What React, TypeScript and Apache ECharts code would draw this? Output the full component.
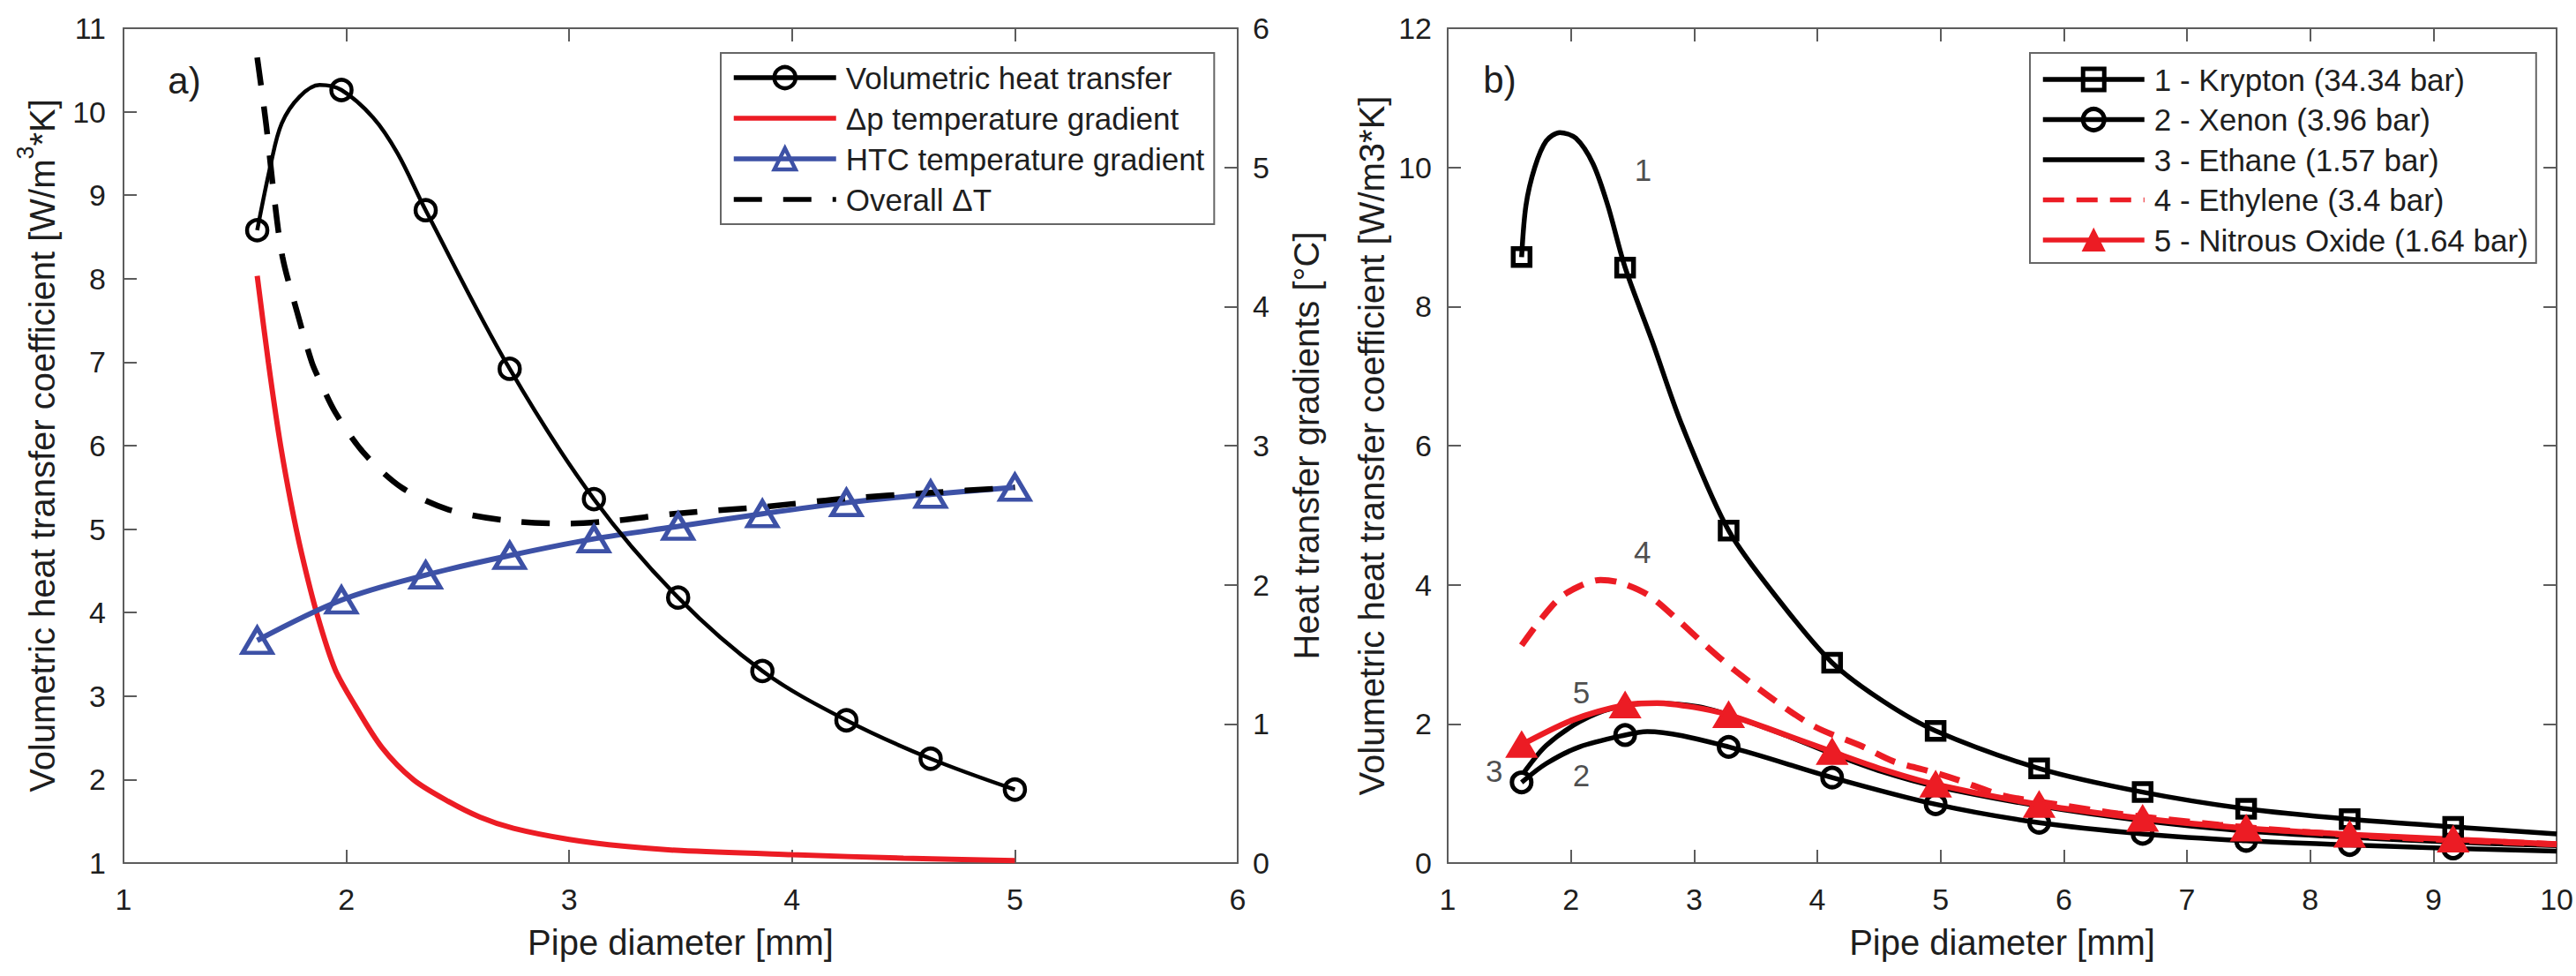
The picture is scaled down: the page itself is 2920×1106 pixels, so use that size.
import React, { useEffect, useRef } from 'react';
import * as echarts from 'echarts';

const FONT = "'Liberation Sans', Arial, Helvetica, sans-serif";

// ---------- Panel a) ----------
const aTicksX = [1, 6];
const aMarkX = [1.6, 1.978, 2.356, 2.733, 3.111, 3.489, 3.867, 4.244, 4.622, 5.0];
// Volumetric heat transfer (left axis)
const volMarkY = [8.58, 10.26, 8.82, 6.92, 5.36, 4.18, 3.3, 2.71, 2.25, 1.88];
const volCurveX = [1.66, 1.71, 1.79, 1.88, 2.12, 2.23];
const volCurveY = [9.36, 9.86, 10.18, 10.32, 9.93, 9.5];
// Δp temperature gradient (right axis)
const dpX = [1.6, 1.65, 1.7, 1.75, 1.8, 1.87, 1.95, 2.04, 2.16, 2.3, 2.45, 2.6, 2.75, 3.0, 3.25, 3.5, 4.0, 4.5, 5.0];
const dpY = [4.22, 3.6, 3.05, 2.6, 2.22, 1.78, 1.39, 1.13, 0.83, 0.6, 0.45, 0.33, 0.25, 0.17, 0.12, 0.09, 0.06, 0.035, 0.018];
// HTC temperature gradient (right axis)
const htcMarkY = [1.6, 1.89, 2.07, 2.21, 2.33, 2.42, 2.51, 2.59, 2.65, 2.7];
// Overall ΔT (right axis)
const dtX = [1.6, 1.64, 1.673, 1.713, 1.779, 1.845, 1.88, 1.95, 2.077, 2.247, 2.459, 2.727, 2.995, 3.2, 3.47, 3.87, 4.24, 4.61, 5.0];
const dtY = [5.79, 5.31, 4.83, 4.36, 3.96, 3.6, 3.47, 3.24, 2.95, 2.7, 2.54, 2.46, 2.44, 2.46, 2.51, 2.56, 2.62, 2.66, 2.7];

// ---------- Panel b) ----------
const bMarkX = [1.6, 2.44, 3.28, 4.12, 4.96, 5.8, 6.64, 7.48, 8.32, 9.16];
// 1 - Krypton
const krMarkY = [8.71, 8.56, 4.78, 2.88, 1.9, 1.36, 1.02, 0.78, 0.63, 0.52];
const krCurveX = [1.635, 1.707, 1.8, 1.91, 2.04, 2.18, 2.3, 2.66, 2.9, 3.71, 4.53, 10];
const krCurveY = [9.45, 10.0, 10.38, 10.5, 10.42, 10.05, 9.45, 7.5, 6.3, 3.73, 2.33, 0.42];
// 2 - Xenon
const xeMarkY = [1.16, 1.84, 1.67, 1.23, 0.845, 0.58, 0.42, 0.32, 0.26, 0.21];
const xeCurveX = [1.8, 2.07, 2.62, 10];
const xeCurveY = [1.43, 1.67, 1.89, 0.17];
// 3 - Ethane
const etX = [1.61, 1.8, 2.07, 2.35, 2.67, 3.03, 3.28, 3.71, 4.12, 4.53, 4.94, 5.8, 6.64, 7.48, 8.32, 9.16, 10];
const etY = [1.28, 1.69, 2.03, 2.23, 2.3, 2.25, 2.13, 1.86, 1.57, 1.31, 1.11, 0.82, 0.61, 0.46, 0.37, 0.3, 0.25];
// 4 - Ethylene
const eyX = [1.6, 1.75, 1.91, 2.07, 2.24, 2.4, 2.62, 2.84, 3.08, 3.33, 3.66, 3.98, 4.36, 4.62, 4.91, 5.13, 5.51, 5.96, 6.44, 7.26, 8.0, 8.76, 10];
const eyY = [3.13, 3.49, 3.81, 3.98, 4.07, 4.03, 3.86, 3.54, 3.15, 2.77, 2.33, 1.96, 1.68, 1.46, 1.32, 1.2, 0.97, 0.84, 0.71, 0.55, 0.44, 0.36, 0.27];
// 5 - Nitrous Oxide
const noMarkY = [1.7, 2.27, 2.13, 1.6, 1.13, 0.84, 0.64, 0.5, 0.41, 0.34];
const noCurveX = [2.02, 2.7, 3.0, 3.7, 4.54, 10];
const noCurveY = [2.06, 2.3, 2.24, 1.87, 1.34, 0.27];
// curve number labels
const numLabels = ['1', '4', '5', '3', '2'];
const numX = [2.585, 2.58, 2.085, 1.377, 2.085];
const numY = [9.96, 4.47, 2.45, 1.33, 1.26];

const legendA = ['Volumetric heat transfer', 'Δp temperature gradient', 'HTC temperature gradient', 'Overall ΔT'];
const legendB = ['1 - Krypton (34.34 bar)', '2 - Xenon (3.96 bar)', '3 - Ethane (1.57 bar)', '4 - Ethylene (3.4 bar)', '5 - Nitrous Oxide (1.64 bar)'];

const RED = '#ec1c24';
const BLUE = '#3d51a6';
const BLACK = '#000000';
const AXIS = '#5c5c5c';
const TXT = '#1e1e1e';

function build(mx: number[], my: number[], cx: number[] = [], cy: number[] = []) {
  const pts: any[] = [
    ...mx.map((x, i) => ({ value: [x, my[i]] })),
    ...cx.map((x, i) => ({ value: [x, cy[i]], symbol: 'none' })),
  ];
  pts.sort((a, b) => a.value[0] - b.value[0]);
  return pts;
}
function pairs(x: number[], y: number[]) {
  return x.map((v, i) => [v, y[i]]);
}

const axisLine = { show: true, onZero: false, lineStyle: { color: AXIS, width: 2 } };
const axisTick = { show: true, inside: true, length: 15, lineStyle: { color: AXIS, width: 2 } };
const tickLabel = { fontFamily: FONT, fontSize: 34, color: TXT };
const nameStyle = { fontFamily: FONT, fontSize: 40, color: TXT };

function makeOption(): any {
  const xAxis = [
    {
      gridIndex: 0, type: 'value', min: aTicksX[0], max: aTicksX[1], interval: 1, position: 'bottom',
      axisLine, axisTick, axisLabel: { ...tickLabel, margin: 24 }, splitLine: { show: false },
      name: 'Pipe diameter [mm]', nameLocation: 'middle', nameGap: 70, nameTextStyle: nameStyle,
    },
    {
      gridIndex: 0, type: 'value', min: aTicksX[0], max: aTicksX[1], interval: 1, position: 'top',
      axisLine, axisTick, axisLabel: { show: false }, splitLine: { show: false },
    },
    {
      gridIndex: 1, type: 'value', min: 1, max: 10, interval: 1, position: 'bottom',
      axisLine, axisTick, axisLabel: { ...tickLabel, margin: 24 }, splitLine: { show: false },
      name: 'Pipe diameter [mm]', nameLocation: 'middle', nameGap: 70, nameTextStyle: nameStyle,
    },
    {
      gridIndex: 1, type: 'value', min: 1, max: 10, interval: 1, position: 'top',
      axisLine, axisTick, axisLabel: { show: false }, splitLine: { show: false },
    },
  ];
  const yAxis = [
    {
      gridIndex: 0, type: 'value', min: 1, max: 11, interval: 1, position: 'left',
      axisLine, axisTick, axisLabel: { ...tickLabel, margin: 20 }, splitLine: { show: false },
      name: '{a|Volumetric heat transfer coefficient [W/m}{s|3}{a|*K]}', nameLocation: 'middle', nameGap: 72,
      nameTextStyle: {
        ...nameStyle,
        rich: {
          a: { fontFamily: FONT, fontSize: 40, color: TXT, lineHeight: 44, verticalAlign: 'bottom' },
          s: { fontFamily: FONT, fontSize: 27, color: TXT, lineHeight: 30, verticalAlign: 'bottom', padding: [0, 0, 26, 0] },
        },
      },
    },
    {
      gridIndex: 0, type: 'value', min: 0, max: 6, interval: 1, position: 'right',
      axisLine, axisTick, axisLabel: { ...tickLabel, margin: 17 }, splitLine: { show: false },
      name: 'Heat transfer gradients [°C]', nameLocation: 'middle', nameGap: 58, nameTextStyle: nameStyle,
    },
    {
      gridIndex: 1, type: 'value', min: 0, max: 12, interval: 2, position: 'left',
      axisLine, axisTick, axisLabel: { ...tickLabel, margin: 18 }, splitLine: { show: false },
      name: 'Volumetric heat transfer coefficient [W/m3*K]', nameLocation: 'middle', nameGap: 66, nameTextStyle: nameStyle,
    },
    {
      gridIndex: 1, type: 'value', min: 0, max: 12, interval: 2, position: 'right',
      axisLine, axisTick, axisLabel: { show: false }, splitLine: { show: false },
    },
  ];

  const hollow = (c: string, w: number) => ({ color: 'rgba(0,0,0,0)', borderColor: c, borderWidth: w });
  const noSymbol = { color: 'rgba(0,0,0,0)', borderColor: 'rgba(0,0,0,0)', borderWidth: 0, opacity: 0 };

  const series: any[] = [
    {
      name: legendA[1], type: 'line', xAxisIndex: 0, yAxisIndex: 1, data: pairs(dpX, dpY),
      symbol: 'none', smooth: 0.3, lineStyle: { color: RED, width: 6 }, itemStyle: { color: RED },
    },
    {
      name: legendA[2], type: 'line', xAxisIndex: 0, yAxisIndex: 1, data: build(aMarkX, htcMarkY),
      symbol: 'triangle', symbolSize: [33, 28], showAllSymbol: true, smooth: 0.35,
      lineStyle: { color: BLUE, width: 6 }, itemStyle: hollow(BLUE, 5),
    },
    {
      name: legendA[3], type: 'line', xAxisIndex: 0, yAxisIndex: 1, data: pairs(dtX, dtY),
      symbol: 'none', smooth: 0.3, lineStyle: { color: BLACK, width: 6.5, type: [32, 24] }, itemStyle: { color: BLACK },
    },
    {
      name: legendA[0], type: 'line', xAxisIndex: 0, yAxisIndex: 0, data: build(aMarkX, volMarkY, volCurveX, volCurveY),
      symbol: 'circle', symbolSize: 23, showAllSymbol: true, smooth: 0.35,
      lineStyle: { color: BLACK, width: 4.5 }, itemStyle: hollow(BLACK, 4.5),
    },
    // panel b
    {
      name: legendB[0], type: 'line', xAxisIndex: 2, yAxisIndex: 2, data: build(bMarkX, krMarkY, krCurveX, krCurveY),
      symbol: 'rect', symbolSize: 19, showAllSymbol: true, smooth: 0.3,
      lineStyle: { color: BLACK, width: 5.5 }, itemStyle: hollow(BLACK, 5.5),
    },
    {
      name: legendB[1], type: 'line', xAxisIndex: 2, yAxisIndex: 2, data: build(bMarkX, xeMarkY, xeCurveX, xeCurveY),
      symbol: 'circle', symbolSize: 22, showAllSymbol: true, smooth: 0.3,
      lineStyle: { color: BLACK, width: 5.5 }, itemStyle: hollow(BLACK, 5),
    },
    {
      name: legendB[2], type: 'line', xAxisIndex: 2, yAxisIndex: 2, data: pairs(etX, etY),
      symbol: 'none', smooth: 0.3, lineStyle: { color: BLACK, width: 5.5 }, itemStyle: { color: BLACK },
    },
    {
      name: legendB[3], type: 'line', xAxisIndex: 2, yAxisIndex: 2, data: pairs(eyX, eyY),
      symbol: 'none', smooth: 0.3, lineStyle: { color: RED, width: 7, type: [24, 14] }, itemStyle: { color: RED },
    },
    {
      name: legendB[4], type: 'line', xAxisIndex: 2, yAxisIndex: 2, data: build(bMarkX, noMarkY, noCurveX, noCurveY),
      symbol: 'triangle', symbolSize: [32, 27], showAllSymbol: true, smooth: 0.3,
      lineStyle: { color: RED, width: 6.5 }, itemStyle: { color: RED, borderColor: RED, borderWidth: 3 },
    },
    {
      name: 'labels', type: 'scatter', xAxisIndex: 2, yAxisIndex: 2, silent: true,
      symbolSize: 1, itemStyle: { color: 'rgba(0,0,0,0)' },
      data: numLabels.map((t, i) => ({ name: t, value: [numX[i], numY[i]] })),
      label: {
        show: true, position: 'inside', formatter: (p: any) => p.name,
        fontFamily: FONT, fontSize: 35, color: TXT,
      },
    },
  ];

  const legendCommon = {
    orient: 'vertical', selectedMode: false, backgroundColor: '#ffffff',
    borderColor: '#666666', borderWidth: 2, itemHeight: 30, itemGap: 6,
    textStyle: { fontFamily: FONT, fontSize: 35, color: TXT, lineHeight: 40, padding: [0, 0, 0, 6] },
    lineStyle: { width: 5.5 },
  };

  return {
    animation: false,
    backgroundColor: '#ffffff',
    grid: [
      { left: 140, top: 32, width: 1263, height: 946 },
      { left: 1641, top: 32, width: 1261, height: 946 },
    ],
    xAxis, yAxis, series,
    legend: [
      {
        ...legendCommon, left: 817, top: 60, padding: [8, 11, 8, 12], itemWidth: 116,
        data: [
          { name: legendA[0], itemStyle: hollow(BLACK, 4.5) },
          { name: legendA[1], itemStyle: noSymbol },
          { name: legendA[2], itemStyle: hollow(BLUE, 4.5) },
          { name: legendA[3], itemStyle: noSymbol },
        ],
      },
      {
        ...legendCommon, left: 2301, top: 60, padding: [10, 9, 6, 12], itemWidth: 115, itemGap: 5.5,
        data: [
          { name: legendB[0], itemStyle: hollow(BLACK, 5) },
          { name: legendB[1], itemStyle: hollow(BLACK, 5) },
          { name: legendB[2], itemStyle: noSymbol },
          { name: legendB[3], itemStyle: noSymbol },
          { name: legendB[4], itemStyle: { color: RED, borderColor: RED, borderWidth: 2 } },
        ],
      },
    ],
    graphic: [
      { type: 'text', x: 209, y: 91, style: { text: 'a)', fontFamily: FONT, fontSize: 42, fill: TXT, align: 'center', verticalAlign: 'middle' } },
      { type: 'text', x: 1700, y: 90, style: { text: 'b)', fontFamily: FONT, fontSize: 42, fill: TXT, align: 'center', verticalAlign: 'middle' } },
    ],
  };
}

export default function App() {
  const ref = useRef<HTMLDivElement>(null);
  useEffect(() => {
    if (!ref.current) return;
    const chart = echarts.init(ref.current, undefined, { renderer: 'svg' });
    chart.setOption(makeOption());
    return () => chart.dispose();
  }, []);
  return (
    <div
      ref={ref}
      style={{ position: 'fixed', left: 0, top: 0, width: 2920, height: 1106, background: '#fff' }}
    />
  );
}
